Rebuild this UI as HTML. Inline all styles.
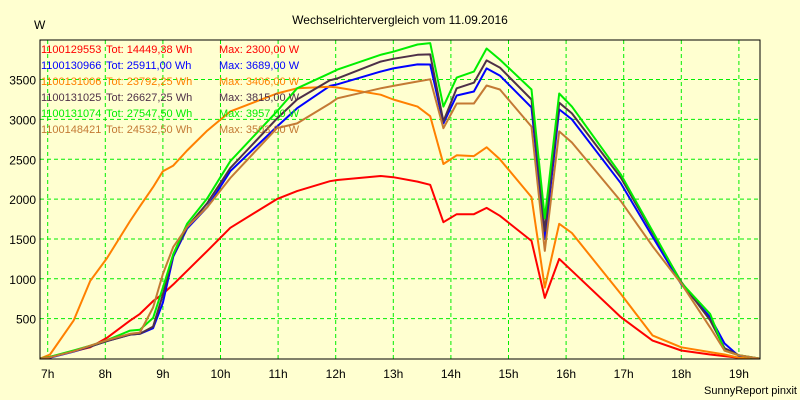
<!DOCTYPE html>
<html><head><meta charset="utf-8"><style>
body{margin:0;background:#ffffd0;}
svg{display:block;font-family:"Liberation Sans",sans-serif;}
</style></head><body>
<svg id="chart" width="800" height="400" viewBox="0 0 800 400" xmlns="http://www.w3.org/2000/svg">
<rect x="0" y="0" width="800" height="400" fill="#ffffd0"/>
<text x="400" y="24" font-size="12" text-anchor="middle" fill="#000">Wechselrichtervergleich vom 11.09.2016</text>
<text x="34" y="29" font-size="12" fill="#000">W</text>
<text x="797" y="394" font-size="11" text-anchor="end" fill="#000">SunnyReport pinxit</text>
<g id="grid"></g>
<g id="series"></g>
<g id="legend"></g>
<rect x="40" y="40" width="720" height="319" fill="none" stroke="#000" stroke-width="1"/>
</svg>
<script>
const hours = [6.87,7.04,7.45,7.74,8.03,8.43,8.6,8.83,9.0,9.18,9.42,9.77,10.17,10.98,11.33,11.9,12.03,12.78,13.0,13.42,13.64,13.87,14.1,14.4,14.62,14.85,15.4,15.63,15.88,16.1,16.95,17.5,18.0,18.5,18.75,19.0,19.35];
const red = [0,20,90,140,260,475,560,720,810,930,1100,1350,1640,2000,2100,2225,2240,2290,2275,2220,2180,1710,1810,1810,1890,1790,1475,760,1250,1100,520,225,100,50,30,10,0];
const blue = [0,10,85,150,220,300,310,380,700,1280,1630,1900,2350,2910,3140,3420,3440,3600,3640,3690,3689,2950,3300,3350,3640,3550,3150,1500,3125,3000,2200,1530,930,520,190,30,0];
const orange = [0,50,475,975,1260,1725,1910,2150,2350,2420,2610,2860,3100,3325,3390,3410,3400,3310,3250,3160,3040,2440,2550,2540,2650,2500,2025,890,1690,1575,810,290,140,80,50,10,0];
const purple = [0,15,90,150,220,300,310,400,800,1300,1650,1950,2390,3010,3250,3490,3515,3725,3760,3810,3815,2975,3390,3460,3740,3650,3250,1600,3210,3075,2270,1580,960,480,130,40,0];
const green = [0,20,100,160,230,350,360,510,890,1310,1690,2010,2475,3100,3390,3580,3625,3810,3850,3940,3957,3160,3525,3600,3890,3750,3375,1760,3325,3160,2310,1600,950,560,100,40,0];
const brown = [0,15,90,160,230,310,325,640,1060,1400,1650,1900,2265,2890,2950,3200,3265,3390,3420,3475,3503,2890,3200,3200,3425,3375,2910,1350,2850,2710,1975,1410,940,390,100,40,0];
const seriesIds = ["1100129553","1100130966","1100131006","1100131025","1100131074","1100148421"];
const seriesTot = ["14449,38","25911,00","23792,25","26627,25","27547,50","24532,50"];
const seriesMax = ["2300,00","3689,00","3406,00","3815,00","3957,00","3503,00"];
const yTicks = [500,1000,1500,2000,2500,3000,3500];
const xTicks = [7,8,9,10,11,12,13,14,15,16,17,18,19];

const NS = "http://www.w3.org/2000/svg";
const colors = ["#ff0000","#0000ff","#ff8000","#4e3048","#00ee00","#c47a34"];
const seriesVals = [red, blue, orange, purple, green, brown];
const X = h => 47.7 + (h - 7) * 57.6;
const Y = v => 358.5 - v * 0.0797;

const grid = document.getElementById('grid');
for (const t of yTicks) {
  const l = document.createElementNS(NS,'line');
  
  
  l.setAttribute('x1', 40); l.setAttribute('x2', 760);
  l.setAttribute('y1', Y(t)); l.setAttribute('y2', Y(t));
  l.setAttribute('stroke', '#00ee00'); l.setAttribute('stroke-dasharray', '4,3');
  grid.appendChild(l);
  const tx = document.createElementNS(NS,'text');
  
  
  tx.setAttribute('x', 36); tx.setAttribute('y', Y(t) + 5);
  tx.setAttribute('font-size', '12'); tx.setAttribute('text-anchor', 'end');
  tx.textContent = t;
  grid.appendChild(tx);
}
for (const h of xTicks) {
  const l = document.createElementNS(NS,'line');
  
  
  l.setAttribute('x1', X(h)); l.setAttribute('x2', X(h));
  l.setAttribute('y1', 40); l.setAttribute('y2', 359);
  l.setAttribute('stroke', '#00ee00'); l.setAttribute('stroke-dasharray', '4,3');
  grid.appendChild(l);
  const tx = document.createElementNS(NS,'text');
  
  
  tx.setAttribute('x', X(h)); tx.setAttribute('y', 378);
  tx.setAttribute('font-size', '12'); tx.setAttribute('text-anchor', 'middle');
  tx.textContent = h + 'h';
  grid.appendChild(tx);
}
const sg = document.getElementById('series');
seriesVals.forEach((vals, i) => {
  const p = document.createElementNS(NS,'polyline');
  
  
  p.setAttribute('points', vals.map((v, k) => X(hours[k]).toFixed(1) + ',' + Y(v).toFixed(1)).join(' '));
  p.setAttribute('fill', 'none'); p.setAttribute('stroke', colors[i]);
  p.setAttribute('stroke-width', '2'); p.setAttribute('stroke-linejoin', 'round');
  sg.appendChild(p);
});
const lg = document.getElementById('legend');
seriesIds.forEach((id, i) => {
  const y = 53 + i * 16;
  const parts = [[41, id], [106, 'Tot: ' + seriesTot[i] + ' Wh'], [219, 'Max: ' + seriesMax[i] + ' W']];
  const t = document.createElementNS(NS,'text');
  
  
  t.setAttribute('font-size', '11'); t.setAttribute('fill', colors[i]);
  for (const [x, s] of parts) {
    const ts = document.createElementNS(NS,'tspan');
    ts.setAttribute('x', x); ts.setAttribute('y', y);
    ts.textContent = s;
    t.appendChild(ts);
  }
  lg.appendChild(t);
});
</script>
</body></html>
